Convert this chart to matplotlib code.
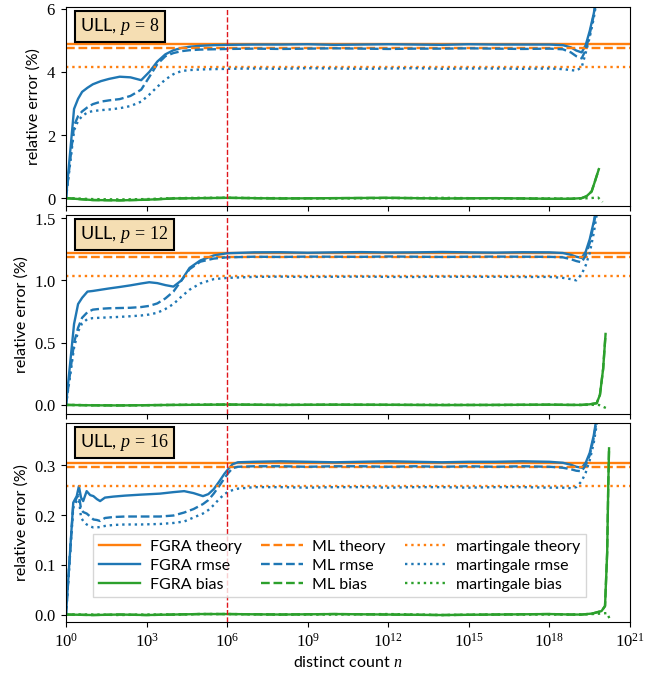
import numpy as np
import matplotlib
matplotlib.use('Agg')
from matplotlib import pyplot as plt
from matplotlib.ticker import FixedLocator, NullLocator, FormatStrFormatter, FuncFormatter

plt.rcParams['font.family'] = ['Lato', 'DejaVu Sans']
plt.rcParams['mathtext.fontset'] = 'custom'
plt.rcParams['mathtext.rm'] = 'Liberation Serif'
plt.rcParams['mathtext.it'] = 'Liberation Serif:italic'
plt.rcParams['mathtext.bf'] = 'Liberation Serif:bold'

# precision parameters of the three panels
precisions = [8, 12, 16]

# theoretical relative errors (%) per panel
fgra_theory = [4.886, 1.221, 0.3053]
ml_theory = [4.755, 1.189, 0.2972]
mart_theory = [4.143, 1.036, 0.2589]

# rmse curves, x given as log10 of distinct count
p8_exp = [0, 0.3, 0.45, 0.6, 0.8, 1.0, 1.3, 1.6, 2.0, 2.4, 2.8, 3.1, 3.4, 3.7, 4.0, 4.3, 4.6, 5.0, 5.5, 6.0,
          7, 8, 9, 10, 11, 12, 13, 14, 15, 16, 17, 18, 18.5, 18.8, 19.0, 19.2, 19.35, 19.5, 19.65, 19.8]
p8_fgra_rmse = [0, 2.83, 3.15, 3.37, 3.5, 3.61, 3.71, 3.78, 3.85, 3.83, 3.74, 4.0, 4.33, 4.56, 4.69, 4.76, 4.8, 4.83, 4.85, 4.86,
                4.87, 4.87, 4.88, 4.86, 4.87, 4.88, 4.87, 4.86, 4.88, 4.87, 4.87, 4.87, 4.85, 4.78, 4.68, 4.62, 4.85, 5.3, 5.85, 6.6]
p8_ml_rmse = [0, 2.3, 2.6, 2.75, 2.88, 2.98, 3.06, 3.1, 3.14, 3.24, 3.44, 3.84, 4.25, 4.5, 4.6, 4.66, 4.69, 4.71, 4.72, 4.73,
              4.74, 4.73, 4.74, 4.75, 4.74, 4.73, 4.74, 4.74, 4.75, 4.74, 4.73, 4.74, 4.72, 4.62, 4.5, 4.43, 4.7, 5.2, 5.8, 6.6]
p8_mart_rmse = [0, 2.15, 2.45, 2.6, 2.72, 2.76, 2.79, 2.81, 2.85, 2.92, 3.06, 3.28, 3.53, 3.76, 3.93, 4.03, 4.06, 4.08, 4.09, 4.1,
                4.11, 4.1, 4.12, 4.11, 4.1, 4.11, 4.12, 4.1, 4.11, 4.11, 4.1, 4.11, 4.09, 4.06, 4.04, 4.15, 4.6, 5.1, 5.7, 6.5]

p12_exp = p8_exp
p12_fgra_rmse = [0, 0.65, 0.81, 0.86, 0.91, 0.915, 0.925, 0.935, 0.947, 0.96, 0.975, 0.985, 0.978, 0.962, 0.95, 1.0, 1.1, 1.16, 1.2, 1.218,
                 1.225, 1.226, 1.222, 1.225, 1.227, 1.224, 1.225, 1.228, 1.225, 1.223, 1.226, 1.225, 1.22, 1.205, 1.19, 1.18, 1.23, 1.33, 1.47, 1.65]
p12_ml_rmse = [0, 0.5, 0.62, 0.7, 0.745, 0.765, 0.772, 0.776, 0.778, 0.78, 0.786, 0.795, 0.815, 0.855, 0.91, 1.0, 1.09, 1.15, 1.175, 1.185,
               1.19, 1.188, 1.191, 1.19, 1.189, 1.192, 1.19, 1.188, 1.19, 1.191, 1.19, 1.189, 1.185, 1.17, 1.155, 1.145, 1.2, 1.3, 1.45, 1.62]
p12_mart_rmse = [0, 0.46, 0.59, 0.655, 0.69, 0.697, 0.7, 0.703, 0.707, 0.712, 0.718, 0.726, 0.74, 0.77, 0.81, 0.87, 0.925, 0.975, 1.01, 1.02,
                 1.028, 1.03, 1.027, 1.029, 1.03, 1.028, 1.027, 1.03, 1.028, 1.029, 1.027, 1.028, 1.02, 1.01, 1.0, 1.05, 1.12, 1.22, 1.38, 1.58]

p16_exp = [0, 0.27, 0.4, 0.48, 0.56, 0.64, 0.77, 0.9, 1.02, 1.15, 1.27, 1.45, 1.76, 2.2, 2.8, 3.5, 4.0, 4.4, 4.75, 5.1,
           5.3, 5.5, 5.7, 5.9, 6.05, 6.2, 6.4, 7, 8, 9, 10, 11, 12, 13, 14, 15, 16, 17, 18, 18.5,
           18.8, 19.0, 19.2, 19.35, 19.5, 19.65, 19.8]
p16_fgra_rmse = [0, 0.225, 0.238, 0.258, 0.235, 0.228, 0.248, 0.24, 0.238, 0.232, 0.228, 0.235, 0.237, 0.239, 0.241, 0.243, 0.246, 0.248, 0.244, 0.238,
                 0.242, 0.252, 0.267, 0.283, 0.293, 0.302, 0.306, 0.307, 0.308, 0.307, 0.306, 0.307, 0.308, 0.307, 0.306, 0.307, 0.307, 0.308, 0.307, 0.305,
                 0.301, 0.297, 0.295, 0.305, 0.325, 0.36, 0.41]
p16_ml_rmse = [0, 0.22, 0.235, 0.24, 0.212, 0.206, 0.203, 0.197, 0.191, 0.19, 0.188, 0.194, 0.196, 0.197, 0.197, 0.197, 0.199, 0.205, 0.212, 0.222,
               0.23, 0.243, 0.258, 0.274, 0.285, 0.294, 0.297, 0.298, 0.298, 0.297, 0.298, 0.298, 0.297, 0.298, 0.297, 0.298, 0.297, 0.298, 0.297, 0.295,
               0.292, 0.289, 0.288, 0.3, 0.32, 0.355, 0.405]
p16_mart_rmse = [0, 0.215, 0.228, 0.232, 0.195, 0.188, 0.181, 0.177, 0.175, 0.175, 0.176, 0.178, 0.18, 0.181, 0.181, 0.182, 0.184, 0.187, 0.195, 0.203,
                 0.21, 0.22, 0.232, 0.242, 0.247, 0.25, 0.253, 0.256, 0.256, 0.255, 0.256, 0.256, 0.255, 0.256, 0.256, 0.255, 0.256, 0.256, 0.255, 0.255,
                 0.254, 0.256, 0.268, 0.285, 0.31, 0.345, 0.395]

# bias curves
p8_bias_exp = [0, 1, 2, 3, 4, 5, 6, 8, 10, 12, 14, 16, 18, 18.8, 19.2, 19.38, 19.57, 19.69, 19.84]
p8_fgra_bias = [0, -0.06, -0.07, -0.05, -0.01, 0.0, 0.01, -0.01, 0.0, 0.01, -0.01, 0.0, -0.02, -0.02, 0.0, 0.06, 0.21, 0.52, 0.92]
p8_mart_exp = [0, 1, 2, 3, 4, 5, 6, 8, 10, 12, 14, 16, 18, 18.8, 19.2, 19.5, 19.81, 19.98]
p8_mart_bias = [0, -0.03, -0.04, -0.03, 0.0, 0.01, 0.01, 0.0, -0.01, 0.0, 0.01, -0.01, -0.01, -0.02, -0.01, 0.0, 0.02, -0.12]

p12_bias_exp = [0, 1, 2, 3, 4, 5, 6, 8, 10, 12, 14, 16, 18, 18.8, 19.2, 19.5, 19.76, 19.88, 20.0, 20.09]
p12_fgra_bias = [0, -0.003, -0.004, -0.002, 0.0, 0.001, 0.003, 0.0, 0.002, 0.001, -0.001, 0.0, 0.002, 0.0, 0.0, 0.005, 0.014, 0.08, 0.29, 0.57]
p12_mart_exp = [0, 1, 2, 3, 4, 5, 6, 8, 10, 12, 14, 16, 18, 18.8, 19.2, 19.5, 19.84, 20.16]
p12_mart_bias = [0, -0.002, -0.003, -0.002, 0.0, 0.002, 0.002, 0.0, 0.001, 0.0, 0.001, -0.001, 0.001, 0.0, 0.0, 0.001, 0.0, -0.03]

p16_bias_exp = [0, 1, 2, 3, 4, 5, 6, 8, 10, 12, 14, 16, 18, 18.8, 19.2, 19.6, 19.94, 20.07, 20.15, 20.19, 20.22]
p16_fgra_bias = [0, -0.001, 0.0, -0.001, 0.0, 0.001, 0.001, 0.0, 0.001, 0.0, -0.001, 0.0, 0.001, 0.0, 0.0, 0.002, 0.007, 0.017, 0.125, 0.258, 0.334]
p16_mart_exp = [0, 1, 2, 3, 4, 5, 6, 8, 10, 12, 14, 16, 18, 18.8, 19.2, 19.6, 19.94, 20.15, 20.25]
p16_mart_bias = [0, 0.0, -0.001, 0.0, 0.0, 0.001, 0.001, 0.0, 0.0, 0.001, -0.001, 0.0, 0.0, 0.0, 0.0, 0.001, 0.002, 0.003, -0.01]

rmse_x = [p8_exp, p12_exp, p16_exp]
fgra_rmse = [p8_fgra_rmse, p12_fgra_rmse, p16_fgra_rmse]
ml_rmse = [p8_ml_rmse, p12_ml_rmse, p16_ml_rmse]
mart_rmse = [p8_mart_rmse, p12_mart_rmse, p16_mart_rmse]
bias_x = [p8_bias_exp, p12_bias_exp, p16_bias_exp]
fgra_bias = [p8_fgra_bias, p12_fgra_bias, p16_fgra_bias]
mart_x = [p8_mart_exp, p12_mart_exp, p16_mart_exp]
mart_bias = [p8_mart_bias, p12_mart_bias, p16_mart_bias]

ylims = [(-0.25, 6.06), (-0.073, 1.525), (-0.015, 0.385)]
yticks = [[0, 2, 4, 6], [0.0, 0.5, 1.0, 1.5], [0.0, 0.1, 0.2, 0.3]]
yfmt = ['$%d$', '$%.1f$', '$%.1f$']
xticks = [10.0 ** k for k in range(0, 22, 3)]

fig, axs = plt.subplots(3, 1, figsize=(6.45, 6.73), dpi=100, sharex=True)
fig.subplots_adjust(left=66/645, right=630/645, top=1-7/673, bottom=1-622/673, hspace=0.045)

lw = 1.7
for i, ax in enumerate(axs):
    ax.set_xscale('log')
    ax.axhline(fgra_theory[i], color='tab:orange', ls='-', lw=lw, label='FGRA theory')
    ax.plot(10.0 ** np.array(rmse_x[i]), fgra_rmse[i], color='tab:blue', ls='-', lw=lw, label='FGRA rmse')
    ax.plot(10.0 ** np.array(bias_x[i]), fgra_bias[i], color='tab:green', ls='-', lw=lw, label='FGRA bias')
    ax.axhline(ml_theory[i], color='tab:orange', ls='--', lw=lw, label='ML theory')
    ax.plot(10.0 ** np.array(rmse_x[i]), ml_rmse[i], color='tab:blue', ls='--', lw=lw, label='ML rmse')
    ax.plot(10.0 ** np.array(bias_x[i]), fgra_bias[i], color='tab:green', ls='--', lw=lw, label='ML bias')
    ax.axhline(mart_theory[i], color='tab:orange', ls=':', lw=lw, label='martingale theory')
    ax.plot(10.0 ** np.array(rmse_x[i]), mart_rmse[i], color='tab:blue', ls=':', lw=lw, label='martingale rmse')
    ax.plot(10.0 ** np.array(mart_x[i]), mart_bias[i], color='tab:green', ls=':', lw=lw, label='martingale bias')
    ax.axvline(1e6, color='#e0151b', ls='--', lw=1.0)

    ax.set_xlim(1, 1e21)
    ax.set_ylim(*ylims[i])
    ax.xaxis.set_major_locator(FixedLocator(xticks))
    ax.xaxis.set_minor_locator(NullLocator())
    ax.xaxis.set_major_formatter(FuncFormatter(lambda v, pos: '$10^{%d}$' % round(np.log10(v))))
    ax.set_yticks(yticks[i])
    ax.yaxis.set_major_formatter(FormatStrFormatter(yfmt[i]))
    ax.tick_params(labelsize=12)
    ax.set_ylabel('relative error (%)', fontsize=11.5)
    ax.text(0.025, 0.955, 'ULL, $p\\,=\\,%d$' % precisions[i], transform=ax.transAxes, fontsize=13,
            va='top', ha='left',
            bbox=dict(boxstyle='square,pad=0.3', facecolor='wheat', edgecolor='black', lw=1.5))

axs[2].set_xlabel('distinct count $n$', fontsize=11.5)
axs[2].legend(ncol=3, loc='lower center', bbox_to_anchor=(0.485, 0.085), fontsize=11.5,
              fancybox=False, framealpha=0.8, edgecolor='0.8', borderpad=0.35,
              handlelength=2.6, columnspacing=1.2, labelspacing=0.3, handletextpad=0.6)

plt.savefig('out.png', dpi=100)
